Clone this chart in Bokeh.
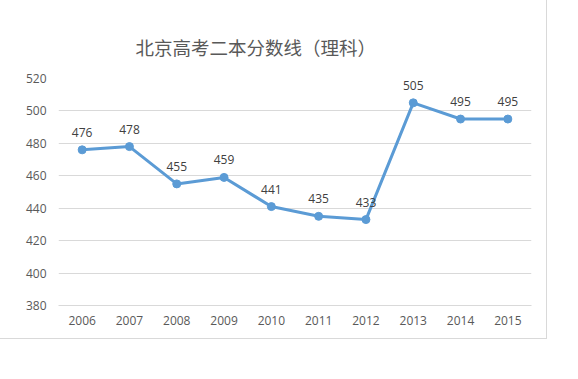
from bokeh.plotting import figure
from bokeh.models import ColumnDataSource, FactorRange, Range1d, FixedTicker
from bokeh.core.properties import value
from bokeh.embed import file_html
from bokeh.resources import INLINE

years = ["2006", "2007", "2008", "2009", "2010", "2011", "2012", "2013", "2014", "2015"]
scores = [476, 478, 455, 459, 441, 435, 433, 505, 495, 495]
y_ticks = [380, 400, 420, 440, 460, 480, 500, 520]
title_text = "北京高考二本分数线（理科）"

src = ColumnDataSource(data=dict(x=years, y=scores, lbl=[str(v) for v in scores]))

p = figure(width=547, height=339, output_backend="svg", toolbar_location=None,
           x_range=FactorRange(*years, range_padding=0),
           y_range=Range1d(y_ticks[0], y_ticks[-1]),
           min_border_left=58, min_border_right=16, min_border_top=78, min_border_bottom=34)
p.styles = {"border-right": "1px solid #d9d9d9", "border-bottom": "1px solid #d9d9d9"}

p.title.text = title_text
p.title.text_font = "Noto Sans CJK SC"
p.title.text_font_size = "18.5px"
p.title.text_font_style = "normal"
p.title.text_color = "#595959"
p.title.align = "left"
p.title.offset = 77
p.title.standoff = 38

p.outline_line_color = None
p.background_fill_color = "white"
p.border_fill_color = "white"

p.xgrid.grid_line_color = None
p.ygrid.grid_line_color = "#d9d9d9"
p.ygrid.grid_line_width = 1

p.yaxis.ticker = FixedTicker(ticks=y_ticks)
p.yaxis.axis_line_color = None
p.yaxis.major_tick_line_color = None
p.yaxis.minor_tick_line_color = None
p.yaxis.major_label_standoff = 6
p.xaxis.axis_line_color = "#d9d9d9"
p.xaxis.major_tick_line_color = None
p.xaxis.minor_tick_line_color = None
p.xaxis.major_label_standoff = 4
for ax in (p.xaxis, p.yaxis):
    ax.major_label_text_font = "Open Sans"
    ax.major_label_text_font_size = "12px"
    ax.major_label_text_color = "#595959"

p.line("x", "y", source=src, line_color="#5B9BD5", line_width=3)
p.scatter("x", "y", source=src, size=8, fill_color="#5B9BD5", line_color="#5B9BD5")
p.text("x", "y", text="lbl", source=src, text_font=value("Open Sans"), text_font_size="12px",
       text_color="#404040", text_align="center", text_baseline="bottom", y_offset=-13)

open("out.html", "w").write(file_html(p, INLINE))
